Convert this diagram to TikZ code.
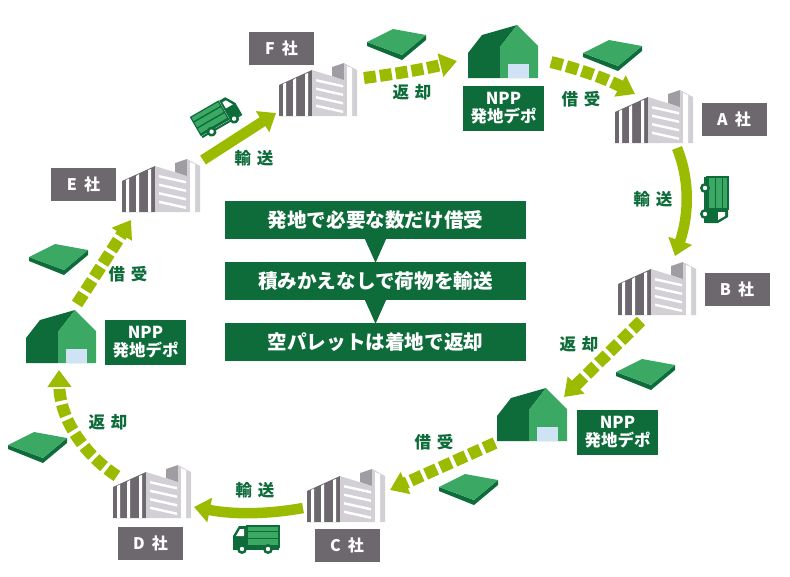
\documentclass[tikz,border=0pt]{standalone}
\usepackage{fontspec}
\setmainfont{Noto Sans CJK JP}
\usetikzlibrary{arrows.meta}
\definecolor{lime}{HTML}{9ABB00}
\definecolor{dkgreen}{HTML}{0E6B3A}
\definecolor{midgreen}{HTML}{3BA864}
\definecolor{slate}{HTML}{6C686E}
\definecolor{ltgrey}{HTML}{D2CFD5}
\definecolor{tower}{HTML}{A09DA2}
\definecolor{winblue}{HTML}{CFE3F5}
\tikzset{
  x=1pt,y=-1pt,
  company/.style={fill=slate,text=white,minimum width=65pt,minimum height=33pt,inner sep=0pt,font=\fontsize{16}{18}\selectfont\bfseries},
  depotlabel/.style={fill=dkgreen,text=white,minimum width=81pt,minimum height=45pt,inner sep=0pt,align=center,font=\fontsize{16.5}{18}\selectfont\bfseries},
  stepbox/.style={fill=dkgreen,text=white,minimum width=301pt,minimum height=38pt,inner sep=0pt,font=\fontsize{19.6}{21}\selectfont\bfseries},
  flowlabel/.style={text=dkgreen,inner sep=0pt,font=\fontsize{16.5}{18}\selectfont\bfseries},
  solidflow/.style={draw=lime,line width=10.5pt,-{Triangle[length=16pt,width=24pt]}},
  dashflow/.style={draw=lime,line width=12pt,dash pattern=on 12pt off 4pt,-{Triangle[length=17pt,width=23pt]}},
  building/.pic={
    % left block
    \fill[slate] (0,0) -- (0,-31) -- (33,-46) -- (33,0) -- cycle;
    \fill[white] (4,0) -- (4,-32) -- (7,-33.5) -- (7,0) -- cycle;
    \fill[white] (14,0) -- (14,-36) -- (17,-38) -- (17,0) -- cycle;
    \fill[white] (26,0) -- (26,-42) -- (29,-43) -- (29,0) -- cycle;
    % middle block
    \fill[ltgrey] (33,0) -- (33,-46) -- (65,-36) -- (65,0) -- cycle;
    \foreach \k in {0,1,2,3}{
      \fill[white] (37,-37+\k*8.5) -- (64,-31+\k*8.5) -- (64,-28.5+\k*8.5) -- (37,-34.5+\k*8.5) -- cycle;
    }
    % tower
    \fill[tower] (53,-49) -- (65,-53) -- (65,-36) -- (53,-40) -- cycle;
    % right block
    \fill[ltgrey] (65,0) -- (65,-53) -- (78,-46) -- (78,0) -- cycle;
    \fill[white] (68,0) -- (68,-50) -- (73,-48) -- (73,0) -- cycle;
  },
  house/.pic={
    \fill[dkgreen] (0,0) -- (0,-25) -- (14,-43) -- (49,-53) -- (32,-31) -- (32,0) -- cycle;
    \fill[midgreen] (32,0) -- (32,-31) -- (49,-53) -- (70,-32) -- (70,0) -- cycle;
    \fill[winblue] (40,0) rectangle (61,-14);
  },
  pallet/.pic={
    \fill[dkgreen] (-29,-1) -- (-29,3) -- (6,17) -- (30,-3) -- (30,-8) -- (6,12) -- cycle;
    \fill[midgreen] (-29,-1) -- (-3,-14) -- (30,-8) -- (6,12) -- cycle;
  },
  lorry/.pic={
    \fill[midgreen] (-9,-13) rectangle (23,8);
    \foreach \k in {-8,-1,6}{\fill[dkgreen] (-9,\k) rectangle (23,\k+1.4);}
    \draw[dkgreen,line width=1.2pt] (-9,-13) rectangle (23,8);
    \fill[dkgreen] (-23,9) -- (-23,-3) -- (-17,-13) -- (-10,-13) -- (-10,9) -- cycle;
    \fill[white] (-20,-3) -- (-16,-10) -- (-12,-10) -- (-12,-3) -- cycle;
    \fill[dkgreen] (-23,9) rectangle (23,11);
    \fill[dkgreen] (-14,10) circle (5);
    \fill[dkgreen] (12,10) circle (5);
    \fill[white] (-14,10) circle (2.2);
    \fill[white] (12,10) circle (2.2);
  },
}
\begin{document}
\begin{tikzpicture}
\useasboundingbox (0,0) rectangle (790,576);

% companies
\pic at (279,116) {building};
\pic at (615,143) {building};
\pic at (618,315) {building};
\pic at (307,522) {building};
\pic at (113,518) {building};
\pic at (122,212) {building};
\node[company] (F) at (281.5,48) {F\hspace{7pt}社};
\node[company] (A) at (734,119.5) {A\hspace{7pt}社};
\node[company] (B) at (737,289.5) {B\hspace{7pt}社};
\node[company] (C) at (347,545.5) {C\hspace{7pt}社};
\node[company] (D) at (150.5,543) {D\hspace{7pt}社};
\node[company] (E) at (83.5,184.5) {E\hspace{7pt}社};

% depots
\pic at (468,78) {house};
\pic at (497,441) {house};
\pic at (26,363) {house};
\node[depotlabel] (d1) at (503.5,108.5) {NPP\\発地デポ};
\node[depotlabel] (d2) at (617.5,432.5) {NPP\\発地デポ};
\node[depotlabel] (d3) at (145.5,342) {NPP\\発地デポ};

% pallets
\pic at (396,43) {pallet};
\pic at (612,54) {pallet};
\pic at (645,373) {pallet};
\pic at (468,488) {pallet};
\pic at (37,446) {pallet};
\pic at (58,258) {pallet};

% lorries
\pic at (256,539) {lorry};
\pic[rotate=-90,xscale=-1] at (715,200) {lorry};
\pic[rotate=30,xscale=-1] at (217,117) {lorry};

% flow ends
\coordinate (Eout) at (203,160);
\coordinate (Fin) at (276,113);
\coordinate (Fout) at (364,78);
\coordinate (d1in) at (457,61);
\coordinate (d1out) at (551,62);
\coordinate (Ain) at (635,94);
\coordinate (Aout) at (677,148);
\coordinate (Bin) at (675,256);
\coordinate (Bout) at (641,321);
\coordinate (d2in) at (564,397);
\coordinate (d2out) at (495,443);
\coordinate (Cin) at (390,490);
\coordinate (Cout) at (303,508);
\coordinate (Din) at (194,507);
\coordinate (Dout) at (117,476);
\coordinate (d3in) at (59,370);
\coordinate (d3out) at (77,304);
\coordinate (Ein) at (131,220);

\draw[solidflow] (Eout) -- (Fin);
\draw[dashflow] (Fout) .. controls (395,74) and (425,69) .. (d1in);
\draw[dashflow] (d1out) .. controls (575,68) and (605,78) .. (Ain);
\draw[solidflow] (Aout) .. controls (690,180) and (689,215) .. (Bin);
\draw[dashflow] (Bout) -- (d2in);
\draw[dashflow] (d2out) -- (Cin);
\draw[solidflow] (Cout) .. controls (270,514) and (235,515) .. (Din);
\draw[dashflow] (Dout) .. controls (85,455) and (60,420) .. (d3in);
\draw[dashflow] (d3out) -- (Ein);

% flow labels
\node[flowlabel] (t1) at (254,158) {輸\hspace{6pt}送};
\node[flowlabel] (t2) at (412,92) {返\hspace{6pt}却};
\node[flowlabel] (t3) at (581,99) {借\hspace{6pt}受};
\node[flowlabel] (t4) at (653,199) {輸\hspace{6pt}送};
\node[flowlabel] (t5) at (579,344) {返\hspace{6pt}却};
\node[flowlabel] (t6) at (434,442) {借\hspace{6pt}受};
\node[flowlabel] (t7) at (255,490) {輸\hspace{6pt}送};
\node[flowlabel] (t8) at (108,422) {返\hspace{6pt}却};
\node[flowlabel] (t9) at (128,274) {借\hspace{6pt}受};

% centre steps
\node[stepbox] (s1) at (375.5,220) {発地で必要な数だけ借受};
\node[stepbox] (s2) at (375.5,281) {積みかえなしで荷物を輸送};
\node[stepbox] (s3) at (375.5,342) {空パレットは着地で返却};
\fill[dkgreen] ([xshift=-10.5pt]s1.south) -- ([xshift=10.5pt]s1.south) -- ([yshift=-1pt]s2.north) -- cycle;
\fill[dkgreen] ([xshift=-10.5pt]s2.south) -- ([xshift=10.5pt]s2.south) -- ([yshift=-1pt]s3.north) -- cycle;
\end{tikzpicture}
\end{document}
